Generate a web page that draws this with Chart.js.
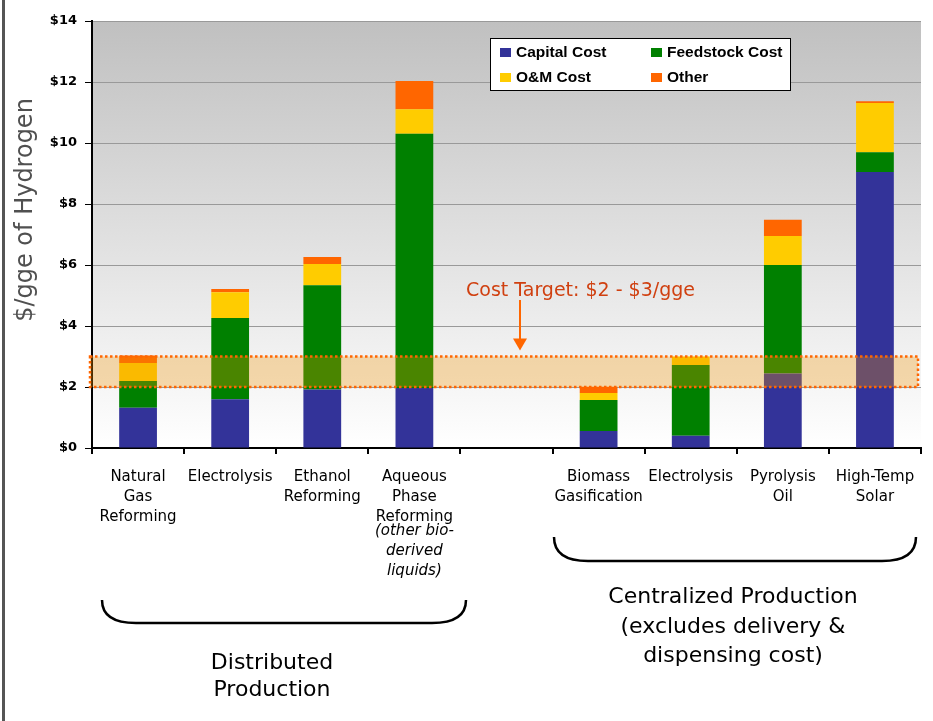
<!DOCTYPE html>
<html>
<head>
<meta charset="utf-8">
<title>Hydrogen production cost</title>
<script src="https://cdn.jsdelivr.net/npm/chart.js@4.4.1/dist/chart.umd.min.js"></script>
<style>
  html, body { margin: 0; padding: 0; background: #ffffff; }
  #wrap { width: 933px; height: 721px; position: relative; }
</style>
</head>
<body>
<div id="wrap"><canvas id="costChart" width="933" height="721"></canvas></div>
<script>
// categories (the empty one is the gap between the two groups)
const categories = [
  ['Natural', 'Gas', 'Reforming'],
  ['Electrolysis'],
  ['Ethanol', 'Reforming'],
  ['Aqueous', 'Phase', 'Reforming'],
  '',
  ['Biomass', 'Gasification'],
  ['Electrolysis'],
  ['Pyrolysis', 'Oil'],
  ['High-Temp', 'Solar']
];
const aqueousNote = ['(other bio-', 'derived', 'liquids)'];

// $/gge, stacked
const capitalCost   = [1.32, 1.60, 1.92, 1.97, null, 0.56, 0.40, 2.44, 9.05];
const feedstockCost = [0.88, 2.66, 3.42, 8.33, null, 1.01, 2.32, 3.56, 0.65];
const omCost        = [0.59, 0.85, 0.69, 0.81, null, 0.23, 0.28, 0.95, 1.61];
const otherCost     = [0.24, 0.10, 0.23, 0.92, null, 0.21, 0.00, 0.53, 0.06];

const yTicks = [0, 2, 4, 6, 8, 10, 12, 14];
const targetLow = 2;
const targetHigh = 3;

const FONT = '"DejaVu Sans", Verdana, sans-serif';

// grey-to-white fill behind the bars
const plotBackground = {
  id: 'plotBackground',
  beforeDraw(chart) {
    const { ctx, chartArea: a } = chart;
    const g = ctx.createLinearGradient(0, a.top, 0, a.bottom);
    g.addColorStop(0, '#c0c0c0');
    g.addColorStop(1, '#ffffff');
    ctx.save();
    ctx.fillStyle = g;
    ctx.fillRect(a.left, a.top, a.right - a.left, a.bottom - a.top);
    ctx.restore();
  }
};

// $2 - $3 target band laid over the bars
const targetBand = {
  id: 'targetBand',
  afterDatasetsDraw(chart) {
    const { ctx, chartArea: a, scales: { y } } = chart;
    const top = y.getPixelForValue(targetHigh);
    const bottom = y.getPixelForValue(targetLow);
    const left = a.left - 2;
    const right = a.right - 3;
    ctx.save();
    ctx.fillStyle = 'rgba(240, 144, 0, 0.31)';
    ctx.fillRect(left, top, right - left, bottom - top);
    ctx.strokeStyle = '#ff6600';
    ctx.lineWidth = 2.5;
    ctx.setLineDash([2.5, 2.5]);
    ctx.strokeRect(left, top, right - left, bottom - top);
    ctx.restore();
  }
};

function bracket(ctx, x1, x2, top, bottom) {
  ctx.beginPath();
  ctx.moveTo(x1, top);
  ctx.quadraticCurveTo(x1, bottom, x1 + 34, bottom);
  ctx.lineTo(x2 - 34, bottom);
  ctx.quadraticCurveTo(x2, bottom, x2, top);
  ctx.stroke();
}

const annotations = {
  id: 'annotations',
  afterDraw(chart) {
    const { ctx, scales: { x, y } } = chart;
    ctx.save();

    // frame line on the left
    ctx.fillStyle = '#555555';
    ctx.fillRect(2, 0, 3, chart.height);

    // y title
    ctx.save();
    ctx.translate(26, 210);
    ctx.rotate(-Math.PI / 2);
    ctx.fillStyle = '#505050';
    ctx.font = '24px ' + FONT;
    ctx.textAlign = 'center';
    ctx.textBaseline = 'middle';
    ctx.fillText('$/gge of Hydrogen', 0, 0);
    ctx.restore();

    // legend
    ctx.fillStyle = '#ffffff';
    ctx.fillRect(490, 38, 301, 53);
    ctx.strokeStyle = '#000000';
    ctx.lineWidth = 1;
    ctx.strokeRect(490.5, 38.5, 300, 52);
    ctx.font = 'bold 15.5px "Liberation Sans", Arial, sans-serif';
    ctx.textBaseline = 'middle';
    ctx.textAlign = 'left';
    const spots = [[500, 53], [651, 53], [500, 78], [651, 78]];
    chart.data.datasets.forEach((ds, i) => {
      const [lx, ly] = spots[i];
      ctx.fillStyle = ds.backgroundColor;
      ctx.fillRect(lx, ly - 5, 11, 9);
      ctx.fillStyle = '#000000';
      ctx.fillText(ds.label, lx + 16, ly);
    });

    // italic note under Aqueous Phase Reforming
    ctx.font = 'italic 15px ' + FONT;
    ctx.textAlign = 'center';
    const ax = x.getPixelForValue(3);
    aqueousNote.forEach((line, i) => {
      ctx.fillText(line, ax, 531 + i * 20);
    });

    // cost target label and arrow
    ctx.fillStyle = '#d04010';
    ctx.font = '19px ' + FONT;
    ctx.textAlign = 'left';
    ctx.textBaseline = 'alphabetic';
    ctx.fillText('Cost Target: $2 - $3/gge', 466, 296);
    const tip = y.getPixelForValue(targetHigh) - 6;
    ctx.strokeStyle = '#ff6600';
    ctx.fillStyle = '#ff6600';
    ctx.lineWidth = 2;
    ctx.beginPath();
    ctx.moveTo(520, 300);
    ctx.lineTo(520, tip - 10);
    ctx.stroke();
    ctx.beginPath();
    ctx.moveTo(513, tip - 12);
    ctx.lineTo(527, tip - 12);
    ctx.lineTo(520, tip);
    ctx.closePath();
    ctx.fill();

    // group brackets and captions
    ctx.strokeStyle = '#000000';
    ctx.lineWidth = 2.5;
    bracket(ctx, 102, 466, 600, 623);
    bracket(ctx, 554, 916, 537, 561);

    ctx.fillStyle = '#000000';
    ctx.font = '22px ' + FONT;
    ctx.textAlign = 'center';
    ctx.fillText('Distributed', 272, 669);
    ctx.fillText('Production', 272, 696);
    ctx.fillText('Centralized Production', 733, 603);
    ctx.fillText('(excludes delivery &', 733, 633);
    ctx.fillText('dispensing cost)', 733, 662);

    ctx.restore();
  }
};

const config = {
  type: 'bar',
  data: {
    labels: categories,
    datasets: [
      { label: 'Capital Cost', data: capitalCost, backgroundColor: '#333399' },
      { label: 'Feedstock Cost', data: feedstockCost, backgroundColor: '#008000' },
      { label: 'O&M Cost', data: omCost, backgroundColor: '#ffcc00' },
      { label: 'Other', data: otherCost, backgroundColor: '#ff6600' }
    ]
  },
  options: {
    responsive: false,
    animation: false,
    layout: { padding: { top: 21, right: 12, left: 0, bottom: 0 } },
    datasets: {
      bar: { categoryPercentage: 1, barPercentage: 0.41, borderWidth: 0 }
    },
    scales: {
      x: {
        stacked: true,
        afterFit(scale) { scale.height = 273; },
        grid: { drawOnChartArea: false, tickLength: 6, tickColor: '#000000', lineWidth: 2 },
        border: { color: '#000000', width: 2 },
        ticks: {
          autoSkip: false,
          maxRotation: 0,
          padding: 13,
          color: '#000000',
          font: { family: FONT, size: 15, lineHeight: 1.33 }
        }
      },
      y: {
        stacked: true,
        min: 0,
        max: 14,
        afterFit(scale) { scale.width = 92; },
        afterBuildTicks(scale) { scale.ticks = yTicks.map(v => ({ value: v })); },
        grid: { color: '#999999', lineWidth: 1, tickLength: 7, tickColor: '#000000' },
        border: { color: '#000000', width: 2 },
        ticks: {
          padding: 8,
          color: '#000000',
          font: { family: FONT, size: 13, weight: 'bold' },
          callback: v => '$' + v
        }
      }
    },
    plugins: {
      legend: { display: false },
      tooltip: { enabled: true }
    }
  },
  plugins: [plotBackground, targetBand, annotations]
};

const chart = new Chart(document.getElementById('costChart').getContext('2d'), config);
</script>
</body>
</html>
